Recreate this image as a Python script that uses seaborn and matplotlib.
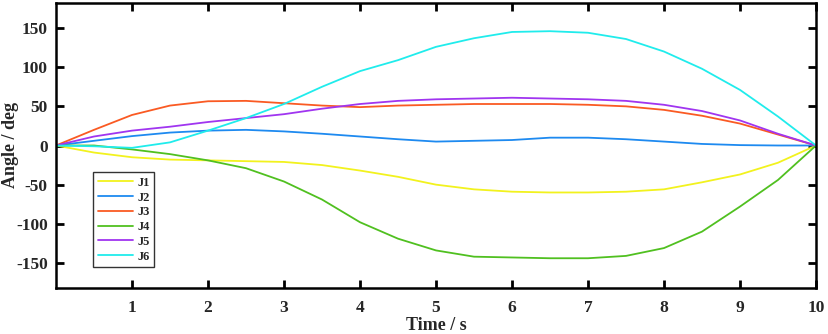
import numpy as np
import pandas as pd
import matplotlib
matplotlib.use("Agg")
import matplotlib.pyplot as plt
import seaborn as sns

time = [0, 0.5, 1, 1.5, 2, 2.5, 3, 3.5, 4, 4.5, 5, 5.5, 6, 6.5, 7, 7.5, 8, 8.5, 9, 9.5, 10]
J1 = [0, -9, -15, -18, -19, -20, -21, -25, -32, -40, -50, -56, -59, -60, -60, -59, -56, -47, -37, -22, 0]
J2 = [0, 6, 12, 16.5, 19, 20, 18, 15, 11.5, 8, 5, 6, 7, 10, 10, 8, 5, 2, 0.5, 0, 0]
J3 = [0, 20, 39, 51, 56.5, 57, 54, 51, 49, 51, 52, 53, 53, 53, 52, 50, 45.5, 38, 28, 14, 0]
J4 = [0, 0, -5, -11, -19, -29, -46, -69, -98, -119, -134, -142, -143, -144, -144, -141, -131, -110, -78, -44, 0]
J5 = [0, 11.5, 19, 24, 30, 35, 40, 47, 53, 57, 59, 60, 61, 60, 59, 57, 52, 44, 32, 15, 0]
J6 = [0, -1, -3, 4, 19, 35, 53, 75, 95, 109, 126, 137, 145, 146, 144, 136, 120, 98, 71, 37, 0]
joints = ["J1", "J2", "J3", "J4", "J5", "J6"]
x_ticks = [1, 2, 3, 4, 5, 6, 7, 8, 9, 10]
y_ticks = [-150, -100, -50, 0, 50, 100, 150]

series = dict(zip(joints, [J1, J2, J3, J4, J5, J6]))
df = pd.concat(
    [pd.DataFrame({"Time": time, "Angle": v, "Joint": k}) for k, v in series.items()],
    ignore_index=True,
)

sns.set_theme(style="ticks")
plt.rcParams["font.family"] = ["Liberation Serif", "DejaVu Serif"]
plt.rcParams["font.weight"] = "bold"
plt.rcParams["axes.unicode_minus"] = False

palette = ["#F2F21E", "#1E8AF0", "#FA5A23", "#50C020", "#A035F0", "#20ECEC"]

fig = plt.figure(figsize=(8.29, 3.34), dpi=100)
ax = fig.add_axes([56 / 829, 1 - 288 / 334, 760 / 829, 285 / 334])
sns.lineplot(data=df, x="Time", y="Angle", hue="Joint", palette=palette,
             linewidth=1.3, ax=ax, legend=True)

ax.set_xlim(0, 10)
ax.set_ylim(-182, 182)
ax.set_xticks(x_ticks)
ax.set_yticks(y_ticks)
ax.tick_params(direction="in", length=6, width=2, top=True, right=True,
               bottom=True, left=True, color="black",
               labeltop=False, labelright=False, labelsize=12.5)
ax.tick_params(axis="x", pad=9)
ax.tick_params(axis="y", pad=6)
for lab in ax.get_xticklabels() + ax.get_yticklabels():
    lab.set_fontweight("bold")
for s in ax.spines.values():
    s.set_linewidth(1.8)
    s.set_color("black")
ax.set_xlabel("Time / s", fontsize=13, fontweight="bold")
ax.set_ylabel("Angle / deg", fontsize=13, fontweight="bold")
ax.xaxis.set_label_coords(0.5, -0.102)
ax.yaxis.set_label_coords(-0.049, 0.5)

handles, labels = ax.get_legend_handles_labels()
leg = ax.legend(handles, labels, loc="lower left", bbox_to_anchor=(0.049, 0.074),
                frameon=True, fancybox=False, edgecolor="black",
                prop={"family": "Liberation Serif", "weight": "bold", "size": 9},
                handlelength=2.8, handletextpad=0.4, labelspacing=0.22,
                borderpad=0.35, borderaxespad=0)
leg.get_frame().set_linewidth(1.0)

fig.savefig("out.png", dpi=100)
